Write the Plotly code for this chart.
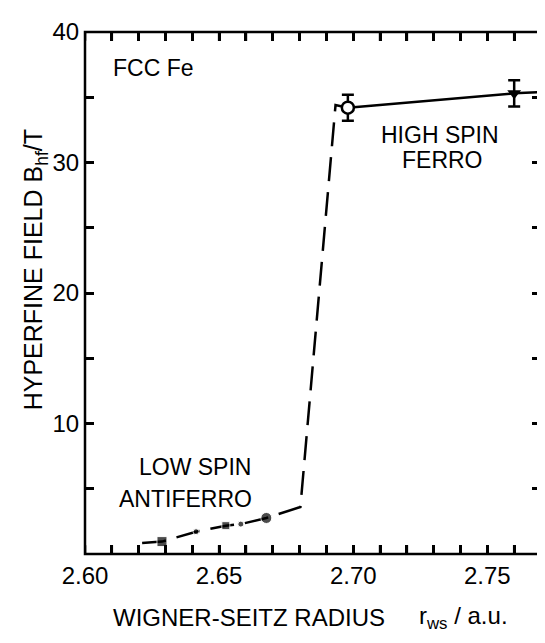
import plotly.graph_objects as go

# ---- data ----
# theoretical curve (low spin antiferro -> jump -> high spin ferro)
curve_x = [2.6213, 2.6287, 2.6414, 2.6525, 2.6581, 2.6676, 2.6803, 2.6934, 2.698]
curve_y = [0.85, 0.95, 1.71, 2.17, 2.29, 2.76, 3.6, 34.4, 34.2]

# low-spin points
low_x = [2.6287, 2.6414, 2.6525, 2.6581, 2.6676]
low_y = [0.95, 1.71, 2.17, 2.29, 2.76]

# high-spin line
high_x = [2.698, 2.760, 2.770]
high_y = [34.2, 35.3, 35.4]

# measured points with error bars
open_x = [2.698]
open_y = [34.2]
open_err = [1.0]
filled_x = [2.760]
filled_y = [35.3]
filled_err = [1.0]

x_ticks = [2.60, 2.61, 2.62, 2.63, 2.64, 2.65, 2.66, 2.67, 2.68, 2.69,
           2.70, 2.71, 2.72, 2.73, 2.74, 2.75, 2.76]
x_labels = ["2.60", "", "", "", "", "2.65", "", "", "", "",
            "2.70", "", "", "", "", "2.75", ""]
y_ticks = [0, 5, 10, 15, 20, 25, 30, 35, 40]
y_labels = ["", "", "10", "", "20", "", "30", "", "40"]

Y_MIN, Y_MAX = 0, 40
TICK_FRAC = 0.017  # inside tick length as fraction of y range (~9 px)

FONT = "Liberation Sans, Arial, sans-serif"
low_sizes = [10, 6, 8, 6, 11]
low_symbols = ["square", "circle", "square", "circle", "circle"]

fig = go.Figure()
fig.add_trace(go.Scatter(x=curve_x, y=curve_y, mode="lines",
                         line=dict(color="black", width=2.5, dash="24px,11px"),
                         showlegend=False, hoverinfo="skip"))
fig.add_trace(go.Scatter(x=high_x, y=high_y, mode="lines",
                         line=dict(color="black", width=2.5),
                         showlegend=False, hoverinfo="skip"))
fig.add_trace(go.Scatter(x=low_x, y=low_y, mode="markers",
                         marker=dict(color="black", size=low_sizes, symbol=low_symbols),
                         showlegend=False))
fig.add_trace(go.Scatter(x=open_x, y=open_y, mode="markers",
                         marker=dict(color="white", size=12, symbol="circle",
                                     line=dict(color="black", width=2.5)),
                         error_y=dict(type="data", array=open_err, color="black",
                                      thickness=2.5, width=6),
                         showlegend=False))
fig.add_trace(go.Scatter(x=filled_x, y=filled_y, mode="markers",
                         marker=dict(color="black", size=12, symbol="triangle-down"),
                         error_y=dict(type="data", array=filled_err, color="black",
                                      thickness=2.5, width=6),
                         showlegend=False))

ann = []
def txt(x, y, s, size, xanchor="center", xref="x", yref="y", angle=0):
    ann.append(dict(x=x, y=y, xref=xref, yref=yref, text=s, showarrow=False,
                    xanchor=xanchor, yanchor="middle", textangle=angle,
                    font=dict(family=FONT, size=size, color="black")))

txt(2.6097, 37.25, "FCC Fe", 23, xanchor="left")
txt(2.7323, 32.1, "HIGH SPIN", 23)
txt(2.7331, 30.2, "FERRO", 23)
txt(2.6410, 6.7, "LOW SPIN", 23)
txt(2.6373, 4.2, "ANTIFERRO", 23)
txt(-0.11, 0.545, "HYPERFINE FIELD B<sub>hf</sub>/T", 25, xref="paper", yref="paper", angle=-90)
txt(0.36, -0.1224, "WIGNER-SEITZ RADIUS", 24, xref="paper", yref="paper")
txt(0.728, -0.1224, "r<sub>ws</sub> / a.u.", 24, xanchor="left", xref="paper", yref="paper")

tf = dict(family=FONT, size=24, color="black")
axis_common = dict(showline=True, linecolor="black", mirror="ticks",
                   ticks="inside", ticklen=9, tickwidth=2.5, tickcolor="black",
                   showgrid=False, zeroline=False, tickfont=tf,
                   ticklabeloverflow="allow")

# frame plus inside tick marks on bottom and top edges at x_ticks
tick_len = (Y_MAX - Y_MIN) * TICK_FRAC
shapes = [dict(type="rect", xref="paper", yref="paper", x0=0, y0=0, x1=1, y1=1,
               line=dict(color="black", width=2.5), layer="above")]
for v in x_ticks:
    shapes.append(dict(type="line", xref="x", yref="y", x0=v, x1=v,
                       y0=Y_MIN, y1=Y_MIN + tick_len,
                       line=dict(color="black", width=2.5), layer="above"))
    shapes.append(dict(type="line", xref="x", yref="y", x0=v, x1=v,
                       y0=Y_MAX - tick_len, y1=Y_MAX,
                       line=dict(color="black", width=2.5), layer="above"))

fig.update_layout(
    width=545, height=643,
    margin=dict(l=77, r=12, t=10, b=97),
    plot_bgcolor="white", paper_bgcolor="white",
    xaxis=dict(range=[2.60, 2.770], tickmode="array", tickvals=x_ticks,
               ticktext=x_labels, **axis_common),
    yaxis=dict(range=[Y_MIN, Y_MAX], tickmode="array", tickvals=y_ticks,
               ticktext=y_labels, **axis_common),
    annotations=ann,
    shapes=shapes,
)

fig.write_html("out.html")
